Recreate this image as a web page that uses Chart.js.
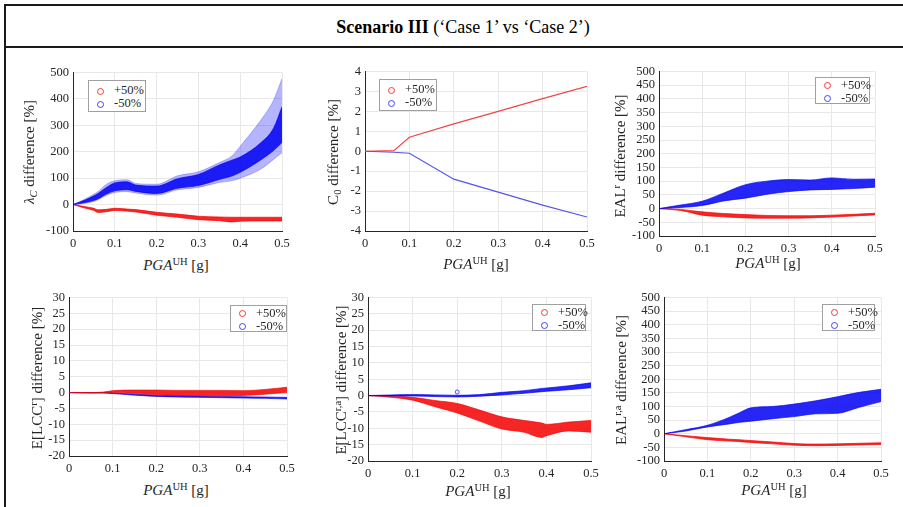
<!DOCTYPE html>
<html><head><meta charset="utf-8">
<script src="https://cdn.jsdelivr.net/npm/chart.js@4.4.1/dist/chart.umd.min.js"></script>
<style>
body{margin:0;background:#fff;width:903px;height:507px;overflow:hidden;position:relative;font-family:"Liberation Serif","Times New Roman",serif;color:#000}
canvas{position:absolute}
.line{position:absolute;background:#1a1a1a}
.title{position:absolute;left:463px;top:27px;transform:translate(-50%,-50%);font-size:18px;white-space:nowrap}
.ytitle{position:absolute;transform:translate(-50%,-50%) rotate(-90deg);white-space:nowrap;font-size:15px;color:#262626}
.xtitle{position:absolute;transform:translate(-50%,-50%);white-space:nowrap;font-size:15px;color:#262626}
sup{font-size:70%;vertical-align:0;position:relative;top:-0.5em}
sub{font-size:70%;vertical-align:0;position:relative;top:0.3em}
.legend{position:absolute;border:1px solid #a0a0a0;background:#fff;font-size:12.5px;color:#262626;box-sizing:border-box}
.legend div{position:relative;height:13px;line-height:13px;padding-left:25px}
.legend span.mk{position:absolute;left:8px;top:3.5px;width:5px;height:5px;border-radius:50%;border:1px solid}
</style>
</head><body>
<div class="line" style="left:4px;top:4px;width:899px;height:2px"></div>
<div class="line" style="left:4px;top:46px;width:899px;height:2px"></div>
<div class="line" style="left:4px;top:4px;width:2px;height:503px"></div>
<div class="title"><b>Scenario III</b> (‘Case 1’ vs ‘Case 2’)</div>

<canvas id="c1"></canvas><canvas id="c2"></canvas><canvas id="c3"></canvas>
<canvas id="c4"></canvas><canvas id="c5"></canvas><canvas id="c6"></canvas>

<div class="ytitle" style="left:29px;top:152px"><i>λ</i><sub><i>C</i></sub> difference [%]</div>
<div class="ytitle" style="left:333px;top:152px">C<sub>0</sub> difference [%]</div>
<div class="ytitle" style="left:620px;top:156px">EAL<sup>r</sup> difference [%]</div>
<div class="ytitle" style="left:37px;top:378px">E[LCC<sup>r</sup>] difference [%]</div>
<div class="ytitle" style="left:341px;top:380px">E[LCC<sup>r,a</sup>] difference [%]</div>
<div class="ytitle" style="left:621px;top:380px">EAL<sup>r,a</sup> difference [%]</div>

<div class="xtitle" style="left:176px;top:265px"><i>PGA</i><sup>UH</sup> [g]</div>
<div class="xtitle" style="left:476px;top:264px"><i>PGA</i><sup>UH</sup> [g]</div>
<div class="xtitle" style="left:768px;top:263px"><i>PGA</i><sup>UH</sup> [g]</div>
<div class="xtitle" style="left:176px;top:490px"><i>PGA</i><sup>UH</sup> [g]</div>
<div class="xtitle" style="left:478px;top:491px"><i>PGA</i><sup>UH</sup> [g]</div>
<div class="xtitle" style="left:774px;top:490px"><i>PGA</i><sup>UH</sup> [g]</div>

<script>
// ---------- data ----------
const seriesLabels = ['+50%', '-50%'];
const xTickValues = [0, 0.1, 0.2, 0.3, 0.4, 0.5];

// Panel 1: lambda_C difference [%]
const lamX       = [0, 0.03, 0.05, 0.06, 0.08, 0.1, 0.13, 0.15, 0.2, 0.25, 0.3, 0.35, 0.38, 0.4, 0.45, 0.48, 0.5];
const lamBlueHi  = [0, 22, 40, 50, 77, 90, 94, 80, 77, 109, 124, 159, 184, 221, 321, 396, 477];
const lamBlueLo  = [0, 5, 12, 18, 35, 46, 49, 44, 36, 56, 65, 84, 90, 100, 135, 171, 196];
const lamBlueCoreHi = [0, 18, 33, 42, 65, 82, 86, 74, 70, 98, 114, 150, 168, 180, 235, 290, 370];
const lamBlueCoreLo = [0, 8, 16, 22, 40, 52, 56, 50, 42, 62, 72, 95, 108, 122, 170, 205, 235];
const lamRedHi   = [0, -8, -14, -20, -18, -14, -17, -19, -29, -36, -44, -47, -48, -48, -48, -48, -48];
const lamRedLo   = [0, -14, -22, -30, -27, -22, -25, -28, -40, -48, -57, -61, -66, -63, -62, -62, -62];

// Panel 2: C0 difference [%]
const c0X    = [0, 0.065, 0.1, 0.2, 0.3, 0.4, 0.5];
const c0Red  = [0, 0.03, 0.7, 1.37, 2.0, 2.64, 3.25];
const c0Blue = [0, -0.05, -0.1, -1.4, -2.05, -2.7, -3.3];

// Panel 3: EAL^r difference [%]
const ealX      = [0, 0.05, 0.1, 0.15, 0.2, 0.25, 0.3, 0.35, 0.4, 0.45, 0.5];
const ealBlueHi = [0, 13, 27, 57, 87, 100, 106, 104, 112, 107, 108];
const ealBlueLo = [0, 4, 11, 28, 38, 52, 62, 68, 70, 73, 78];
const ealRedHi  = [0, -3, -12, -18, -22, -25, -26, -26, -24, -21, -17];
const ealRedLo  = [0, -7, -24, -30, -34, -35, -35, -34, -31, -27, -23];

// Panel 4: E[LCC^r] difference [%]
const lccX      = [0, 0.05, 0.08, 0.1, 0.15, 0.2, 0.25, 0.3, 0.35, 0.4, 0.45, 0.5];
const lccRedHi  = [0, 0, 0.2, 0.6, 0.8, 0.8, 0.7, 0.7, 0.7, 0.6, 1.0, 1.7];
const lccRedLo  = [0, -0.1, -0.1, 0, -0.3, -0.6, -0.9, -1.0, -1.0, -0.9, -0.5, 0];
const lccBlueHi = [0, 0, 0, -0.1, -0.5, -0.8, -1.0, -1.1, -1.2, -1.3, -1.4, -1.5];
const lccBlueLo = [0, -0.1, -0.1, -0.3, -0.8, -1.2, -1.4, -1.5, -1.6, -1.7, -1.8, -2.0];

// Panel 5: E[LCC^r,a] difference [%]
const lcaX      = [0, 0.05, 0.1, 0.15, 0.2, 0.25, 0.3, 0.35, 0.39, 0.4, 0.45, 0.5];
const lcaRedHi  = [0, -0.1, -0.5, -1.5, -2.4, -4.4, -6.5, -7.6, -8.4, -8.8, -8.1, -7.6];
const lcaRedLo  = [0, -0.5, -1.4, -3.4, -5.3, -7.8, -10.2, -11.2, -12.8, -12.3, -10.8, -11.2];
const lcaBlueHi = [0, 0.2, 0.3, 0.2, 0.1, 0.3, 1.0, 1.5, 2.2, 2.3, 3.0, 3.9];
const lcaBlueLo = [0, -0.1, -0.1, -0.3, -0.4, -0.2, 0.2, 0.7, 1.2, 1.3, 1.8, 2.4];
const lcaBlueOutlierX = [0.2];
const lcaBlueOutlierY = [1.1];

// Panel 6: EAL^r,a difference [%]
const eraX      = [0, 0.05, 0.1, 0.15, 0.175, 0.2, 0.25, 0.3, 0.35, 0.4, 0.45, 0.5];
const eraBlueHi = [0, 15, 31, 60, 78, 95, 100, 109, 121, 136, 152, 163];
const eraBlueLo = [0, 10, 25, 36, 42, 46, 55, 63, 73, 75, 97, 118];
const eraRedHi  = [0, -7, -14, -20, -22, -25, -30, -36, -38, -37, -35, -33];
const eraRedLo  = [0, -11, -22, -27, -29, -32, -37, -42, -44, -43, -41, -39];

// ---------- styling ----------
const BLUE = 'rgba(0,0,245,0.85)', RED = 'rgba(245,0,0,0.85)';
const BLUE_LIGHT = 'rgba(40,40,255,0.35)';
const LINE_RED = 'rgba(240,70,70,1)', LINE_BLUE = 'rgba(85,85,240,1)';
const FONT = '"Liberation Serif","Times New Roman",serif';
const PADL = 46, PADT = 10, PADR = 16, PADB = 24;

function pts(xs, ys) { return xs.map((x, i) => ({ x: x, y: ys[i] })); }
function band(xs, lo, hi, color, label) {
  return [
    { label: label, data: pts(xs, lo), borderColor: color, borderWidth: 0.8, pointRadius: 0, fill: false, cubicInterpolationMode: 'monotone' },
    { label: label, data: pts(xs, hi), borderColor: color, borderWidth: 0.8, backgroundColor: color, pointRadius: 0, fill: '-1', cubicInterpolationMode: 'monotone' }
  ];
}
function makeChart(id, box, ymin, ymax, ystep, datasets) {
  const cv = document.getElementById(id);
  const w = (box.r - box.l) + PADL + PADR, h = (box.b - box.t) + PADT + PADB;
  cv.width = w; cv.height = h;
  cv.style.left = (box.l - PADL) + 'px'; cv.style.top = (box.t - PADT) + 'px';
  cv.style.width = w + 'px'; cv.style.height = h + 'px';
  return new Chart(cv, {
    type: 'line',
    data: { datasets: datasets },
    options: {
      responsive: false, animation: false, devicePixelRatio: 1,
      layout: { autoPadding: false, padding: { left: 0, top: PADT, right: PADR, bottom: 0 } },
      plugins: { legend: { display: false }, tooltip: { enabled: false } },
      scales: {
        x: {
          type: 'linear', min: 0, max: 0.5,
          afterBuildTicks: s => { s.ticks = xTickValues.map(v => ({ value: v })); },
          ticks: { callback: v => String(+v.toFixed(1)), color: '#262626', padding: 5, maxRotation: 0, autoSkip: false, font: { family: FONT, size: 12.5 } },
          grid: { color: '#e8e8e8', drawTicks: false, lineWidth: 1 },
          border: { color: '#262626', width: 1 },
          afterFit: s => { s.height = PADB; }
        },
        y: {
          min: ymin, max: ymax,
          ticks: { stepSize: ystep, color: '#262626', padding: 4, autoSkip: false, font: { family: FONT, size: 12.5 } },
          grid: { color: '#e8e8e8', drawTicks: false, lineWidth: 1 },
          border: { color: '#262626', width: 1 },
          afterFit: s => { s.width = PADL; }
        }
      }
    }
  });
}

// Panel 1
makeChart('c1', { l: 73, t: 71, r: 282, b: 231 }, -100, 500, 100, [
  ...band(lamX, lamBlueCoreLo, lamBlueCoreHi, BLUE, seriesLabels[1]),
  ...band(lamX, lamBlueLo, lamBlueHi, BLUE_LIGHT, seriesLabels[1]),
  ...band(lamX, lamRedLo, lamRedHi, RED, seriesLabels[0])
]);
// Panel 2
makeChart('c2', { l: 365, t: 70, r: 587, b: 231 }, -4, 4, 1, [
  { label: seriesLabels[1], data: pts(c0X, c0Blue), borderColor: LINE_BLUE, borderWidth: 1.2, pointRadius: 0, fill: false },
  { label: seriesLabels[0], data: pts(c0X, c0Red), borderColor: LINE_RED, borderWidth: 1.2, pointRadius: 0, fill: false }
]);
// Panel 3
makeChart('c3', { l: 659, t: 70, r: 875, b: 236 }, -100, 500, 50, [
  ...band(ealX, ealBlueLo, ealBlueHi, BLUE, seriesLabels[1]),
  ...band(ealX, ealRedLo, ealRedHi, RED, seriesLabels[0])
]);
// Panel 4
makeChart('c4', { l: 69, t: 296, r: 287, b: 456 }, -20, 30, 5, [
  ...band(lccX, lccRedLo, lccRedHi, RED, seriesLabels[0]),
  ...band(lccX, lccBlueLo, lccBlueHi, BLUE, seriesLabels[1])
]);
// Panel 5
makeChart('c5', { l: 368, t: 296, r: 591, b: 461 }, -20, 30, 5, [
  { label: seriesLabels[1], data: pts(lcaBlueOutlierX, lcaBlueOutlierY), showLine: false, pointRadius: 2, pointBorderColor: BLUE, pointBackgroundColor: 'rgba(0,0,0,0)', pointBorderWidth: 0.8 },
  ...band(lcaX, lcaBlueLo, lcaBlueHi, BLUE, seriesLabels[1]),
  ...band(lcaX, lcaRedLo, lcaRedHi, RED, seriesLabels[0])
]);
// Panel 6
makeChart('c6', { l: 664, t: 296, r: 881, b: 461 }, -100, 500, 50, [
  ...band(eraX, eraBlueLo, eraBlueHi, BLUE, seriesLabels[1]),
  ...band(eraX, eraRedLo, eraRedHi, RED, seriesLabels[0])
]);

// Legends (inside each axes, MATLAB style)
const legendBoxes = [
  { l: 88, t: 80, w: 58, h: 32 }, { l: 379, t: 79, w: 58, h: 32 }, { l: 815, t: 77, w: 55, h: 27 },
  { l: 230, t: 305, w: 57, h: 27 }, { l: 532, t: 304, w: 54, h: 27 }, { l: 822, t: 304, w: 53, h: 27 }
];
const legendColors = ['rgb(240,60,60)', 'rgb(70,70,240)'];
legendBoxes.forEach(b => {
  const d = document.createElement('div');
  d.className = 'legend';
  d.style.left = b.l + 'px'; d.style.top = b.t + 'px'; d.style.width = b.w + 'px'; d.style.height = b.h + 'px';
  d.style.paddingTop = ((b.h - 26) / 2) + 'px';
  seriesLabels.forEach((lab, i) => {
    const r = document.createElement('div');
    const mk = document.createElement('span');
    mk.className = 'mk'; mk.style.borderColor = legendColors[i];
    r.appendChild(mk);
    r.appendChild(document.createTextNode(lab));
    d.appendChild(r);
  });
  document.body.appendChild(d);
});
</script>
</body></html>
